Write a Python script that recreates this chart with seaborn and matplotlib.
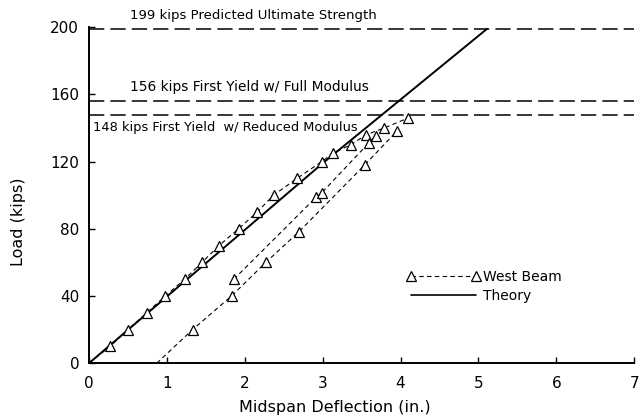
import numpy as np
import pandas as pd
import matplotlib
matplotlib.use("Agg")
import matplotlib.pyplot as plt
import seaborn as sns
from matplotlib.lines import Line2D

# ---- data ----
load_x = [0.0, 0.27, 0.50, 0.74, 0.98, 1.23, 1.45, 1.67, 1.92, 2.16, 2.37, 2.67, 2.99, 3.13, 3.36, 3.56, 3.79, 4.10]
load_y = [0, 10, 20, 30, 40, 50, 60, 70, 80, 90, 100, 110, 120, 125, 130, 136, 140, 146]

reloadA_x = [0.87, 1.33, 1.83, 2.27, 2.69, 3.54, 3.95]
reloadA_y = [0, 20, 40, 60, 78, 118, 138]

reloadB_x = [1.86, 2.92, 2.99, 3.59, 3.68]
reloadB_y = [50, 99, 101.5, 131, 135]

theory_x = [0.0, 3.0, 5.11]
theory_y = [0, 119, 199]

ref_loads = [199, 156, 148]
ref_labels = ["199 kips Predicted Ultimate Strength",
              "156 kips First Yield w/ Full Modulus",
              "148 kips First Yield  w/ Reduced Modulus"]

x_ticks = [0, 1, 2, 3, 4, 5, 6, 7]
y_ticks = [0, 40, 80, 120, 160, 200]

# ---- plot ----
sns.set_style("ticks")
plt.rcParams['font.family'] = ['DejaVu Sans']
plt.rcParams['text.color'] = 'black'
plt.rcParams['axes.labelcolor'] = 'black'

fig = plt.figure(figsize=(6.4, 4.18), dpi=100)
ax = fig.add_axes([0.139, 0.131, 0.852, 0.804])

dash_style = (0, (4, 3))
mk = dict(marker='^', markersize=7, markerfacecolor='white', markeredgecolor='black', markeredgewidth=0.9)

sns.lineplot(x=theory_x, y=theory_y, ax=ax, color='black', linewidth=1.4, sort=False)
sns.lineplot(x=load_x, y=load_y, ax=ax, color='black', linewidth=0.8, linestyle=dash_style,
             sort=False, markevery=list(range(1, len(load_x))), **mk)
sns.lineplot(x=reloadA_x, y=reloadA_y, ax=ax, color='black', linewidth=0.8, linestyle=dash_style,
             sort=False, markevery=list(range(1, len(reloadA_x))), **mk)
sns.lineplot(x=reloadB_x, y=reloadB_y, ax=ax, color='black', linewidth=0.8, linestyle=dash_style,
             sort=False, **mk)

for val in ref_loads:
    ax.axhline(val, color='black', linewidth=1.1, linestyle=(0, (10, 4)), xmin=0, xmax=1)

ax.text(2.11, 203, ref_labels[0], ha='center', va='bottom', fontsize=9.5)
ax.text(0.53, 160, ref_labels[1], ha='left', va='bottom', fontsize=9.9)
ax.text(0.05, 144, ref_labels[2], ha='left', va='top', fontsize=9.4)

ax.set_xlim(0, 7)
ax.set_ylim(0, 200)
ax.set_xticks(x_ticks)
ax.set_xticklabels([str(t) for t in x_ticks])
ax.set_yticks(y_ticks)
ax.set_yticklabels([str(t) for t in y_ticks])
ax.tick_params(direction='in', length=4, width=1, labelsize=11, colors='black')
ax.tick_params(axis='x', pad=9)
ax.tick_params(axis='y', pad=7)
sns.despine(ax=ax)
for s in ['left', 'bottom']:
    ax.spines[s].set_linewidth(1.4)
    ax.spines[s].set_color('black')

ax.set_xlabel("Midspan Deflection (in.)", fontsize=11.5)
ax.set_ylabel("Load (kips)", fontsize=11.5)
ax.xaxis.set_label_coords(0.45, -0.108)
ax.yaxis.set_label_coords(-0.115, 0.42)

leg_mk = dict(mk)
leg_mk['markersize'] = 7
handles = [Line2D([0], [0], color='black', linewidth=0.8, linestyle=dash_style, **leg_mk),
           Line2D([0], [0], color='black', linewidth=1.2)]
ax.legend(handles, ["West Beam", "Theory"], loc='upper left', bbox_to_anchor=(0.56, 0.315),
          frameon=False, numpoints=2, handlelength=5.3, fontsize=10, handletextpad=0.2,
          labelspacing=0.35)

fig.savefig("out.png", dpi=100)
